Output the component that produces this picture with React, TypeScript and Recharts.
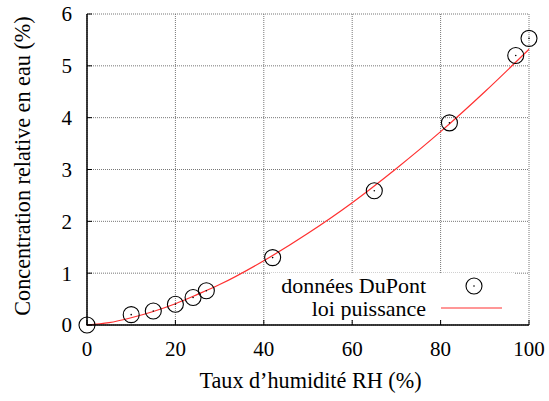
import { ComposedChart, Line, Scatter, XAxis, YAxis, CartesianGrid, Legend } from "recharts";

// DuPont measurements (humidity %, concentration %)
const rhPoints = [0, 10, 15, 20, 24, 27, 42, 65, 82, 97, 100];
const concPoints = [0, 0.2, 0.27, 0.4, 0.53, 0.66, 1.3, 2.59, 3.9, 5.2, 5.53];

// power-law curve, values
const rhCurve = [0, 5, 10, 15, 20, 25, 30, 40, 50, 60, 70, 80, 90, 100];
const concCurve = [0, 0.045, 0.14, 0.26, 0.41, 0.59, 0.78, 1.24, 1.77, 2.36, 3.02, 3.73, 4.5, 5.32];

const xTicks = [0, 20, 40, 60, 80, 100];
const yTicks = [0, 1, 2, 3, 4, 5, 6];

const pointData = rhPoints.map((x, i) => ({ x, y: concPoints[i] }));
const curveData = rhCurve.map((x, i) => ({ x, y: concCurve[i] }));

const FONT = "Liberation Serif, Times New Roman, Tinos, DejaVu Serif, Noto Serif, serif";
const RED = "#ff3030";
const tickTxt = { fontFamily: FONT, fontSize: 21 };
const labelTxt = { fontFamily: FONT, fontSize: 22.2 };
const keyTxt = { fontFamily: FONT, fontSize: 22 };

const BottomTick = (props: any) => {
  const { x, y, payload } = props;
  return (
    <g>
      <line x1={x} y1={y - 16} x2={x} y2={y - 21} stroke="#000" />
      <text x={x} y={y} dy="0.71em" textAnchor="middle" style={tickTxt} fill="#000">
        {payload.value}
      </text>
    </g>
  );
};

const LeftTick = (props: any) => {
  const { x, y, payload } = props;
  return (
    <g>
      <line x1={x + 15} y1={y} x2={x + 20} y2={y} stroke="#000" />
      <text x={x} y={y} dy="0.35em" textAnchor="end" style={tickTxt} fill="#000">
        {payload.value}
      </text>
    </g>
  );
};

const TopTick = (props: any) => {
  const { x, y } = props;
  return <line x1={x} y1={y} x2={x} y2={y + 5} stroke="#000" />;
};

const RightTick = (props: any) => {
  const { x, y } = props;
  return <line x1={x} y1={y} x2={x - 5} y2={y} stroke="#000" />;
};

const Ring = (props: any) => {
  const { cx, cy } = props;
  return (
    <g>
      <circle cx={cx} cy={cy} r={8} fill="none" stroke="#000" strokeWidth={1.1} />
      <circle cx={cx} cy={cy} r={0.8} fill="#000" />
    </g>
  );
};

const YLabel = (props: any) => {
  const { viewBox } = props;
  const cx = viewBox.x + 22;
  const cy = viewBox.y + viewBox.height / 2 - 3.5;
  return (
    <text x={cx} y={cy} dy="0.35em" textAnchor="middle" transform={`rotate(-90, ${cx}, ${cy})`}
      style={labelTxt} fill="#000">
      Concentration relative en eau (%)
    </text>
  );
};

const XLabel = (props: any) => {
  const { viewBox } = props;
  const cx = viewBox.x + viewBox.width / 2 + 2.5;
  const cy = viewBox.y + viewBox.height - 13;
  return (
    <text x={cx} y={cy} textAnchor="middle" style={labelTxt} fill="#000">
      Taux d’humidité RH (%)
    </text>
  );
};

const KeyBox = () => (
  <div style={{ background: "#fff", width: 245, height: 47 }}>
    <svg width={245} height={47} style={{ display: "block" }}>
      <text x={156} y={12.5} dy="0.35em" textAnchor="end" style={keyTxt} fill="#000">
        données DuPont
      </text>
      <circle cx={204} cy={13} r={8} fill="none" stroke="#000" strokeWidth={1.1} />
      <circle cx={204} cy={13} r={0.8} fill="#000" />
      <text x={156} y={35.5} dy="0.35em" textAnchor="end" style={keyTxt} fill="#000">
        loi puissance
      </text>
      <line x1={171} y1={35} x2={232} y2={35} stroke={RED} strokeWidth={1.2} />
    </svg>
  </div>
);

export default function App() {
  return (
    <div style={{ position: "absolute", left: 0, top: 0, width: 549, height: 401, background: "#fff" }}>
      <ComposedChart width={549} height={401} margin={{ top: 14, right: 20, bottom: 0, left: 0 }}>
        <CartesianGrid stroke="#777" strokeDasharray="1 1" />
        <XAxis
          dataKey="x"
          type="number"
          domain={[0, 100]}
          ticks={xTicks}
          interval={0}
          height={76}
          tickSize={0}
          tickMargin={16}
          tickLine={false}
          tick={<BottomTick />}
          axisLine={{ stroke: "#000", strokeWidth: 1.5 }}
          label={<XLabel />}
        />
        <XAxis
          xAxisId="top"
          orientation="top"
          dataKey="x"
          type="number"
          domain={[0, 100]}
          ticks={xTicks}
          interval={0}
          height={0}
          tickSize={0}
          tickMargin={0}
          tickLine={false}
          tick={<TopTick />}
          axisLine={{ stroke: "#000", strokeWidth: 1.5 }}
        />
        <YAxis
          type="number"
          domain={[0, 6]}
          ticks={yTicks}
          interval={0}
          width={87}
          tickSize={0}
          tickMargin={15}
          tickLine={false}
          tick={<LeftTick />}
          axisLine={{ stroke: "#000", strokeWidth: 1.5 }}
          label={<YLabel />}
        />
        <YAxis
          yAxisId="right"
          orientation="right"
          type="number"
          domain={[0, 6]}
          ticks={yTicks}
          interval={0}
          width={0}
          tickSize={0}
          tickMargin={0}
          tickLine={false}
          tick={<RightTick />}
          axisLine={{ stroke: "#000", strokeWidth: 1.5 }}
        />
        <Line
          data={curveData}
          dataKey="y"
          type="monotone"
          stroke={RED}
          strokeWidth={1.2}
          dot={false}
          activeDot={false}
          isAnimationActive={false}
          name="loi puissance"
        />
        <Scatter
          data={pointData}
          dataKey="y"
          shape={<Ring />}
          isAnimationActive={false}
          name="données DuPont"
        />
        <Legend
          layout="vertical"
          align="center"
          verticalAlign="middle"
          content={<KeyBox />}
          wrapperStyle={{ left: 270, top: 273, width: 245, height: 47 }}
        />
      </ComposedChart>
    </div>
  );
}
